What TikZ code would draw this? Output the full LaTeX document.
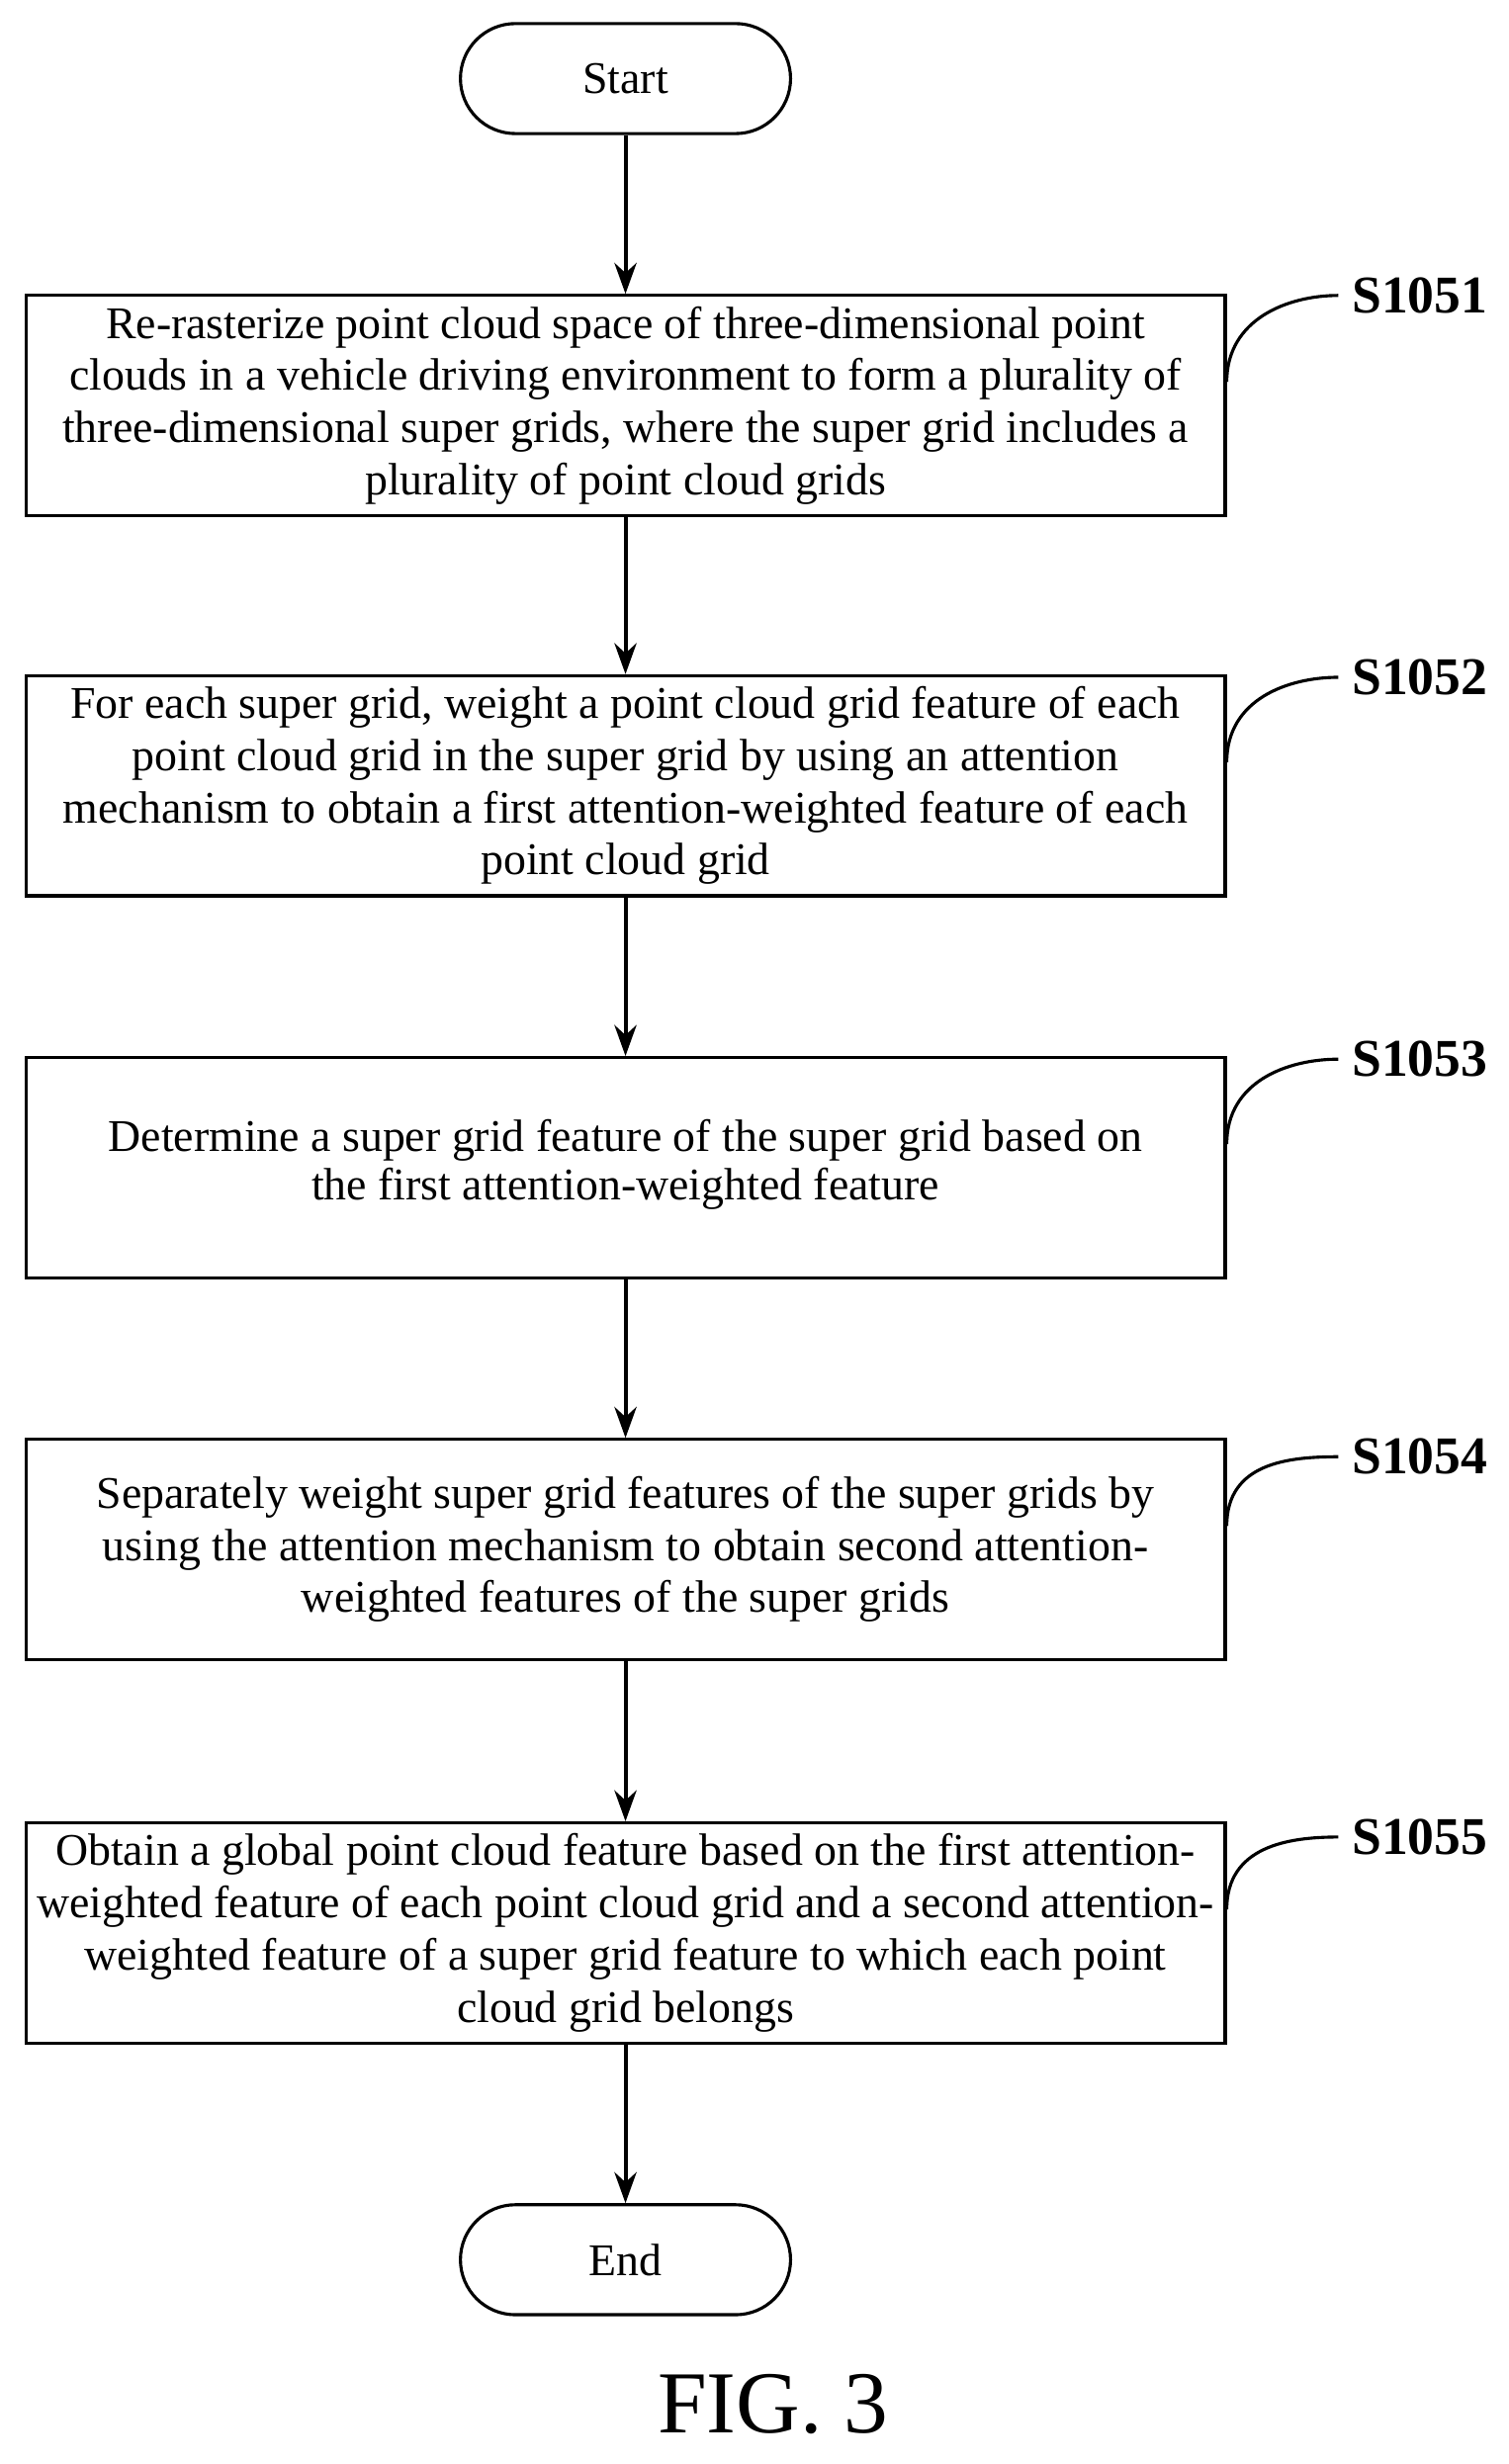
\documentclass[tikz,border=0pt]{standalone}
\usepackage{fontspec}
\setmainfont{Liberation Serif}
\usetikzlibrary{arrows.meta}

\begin{document}
\begin{tikzpicture}[x=0.025cm,y=-0.025cm,
    procbox/.style={draw=black,line width=1.4pt,minimum width=19.075cm,minimum height=3.5cm,
        align=center,font=\fontsize{20.5}{23.6}\selectfont,inner sep=0pt},
    term/.style={draw=black,line width=1.4pt,minimum width=5.25cm,minimum height=1.75cm,
        rounded corners=0.875cm,font=\fontsize{20.5}{23.6}\selectfont},
    tag/.style={anchor=west,inner sep=0pt,font=\bfseries\fontsize{24}{28}\selectfont},
    flow/.style={-{Stealth[length=14pt,width=10pt]},line width=1.8pt}]
    \useasboundingbox (0,0) rectangle (960,1568);
    \node[term] (start) at (398,50) {Start};
    \node[procbox] (b1) at (398,258) {Re-rasterize point cloud space of three-dimensional point\\clouds in a vehicle driving environment to form a plurality of\\three-dimensional super grids, where the super grid includes a\\plurality of point cloud grids};
    \node[procbox] (b2) at (398,500) {For each super grid, weight a point cloud grid feature of each\\point cloud grid in the super grid by using an attention\\mechanism to obtain a first attention-weighted feature of each\\point cloud grid};
    \node[procbox] (b3) at (398,743) {\raisebox{7pt}{\shortstack{Determine a super grid feature of the super grid based on\\the first attention-weighted feature}}};
    \node[procbox] (b4) at (398,986) {Separately weight super grid features of the super grids by\\using the attention mechanism to obtain second attention-\\weighted features of the super grids};
    \node[procbox] (b5) at (398,1230) {Obtain a global point cloud feature based on the first attention-\\weighted feature of each point cloud grid and a second attention-\\weighted feature of a super grid feature to which each point\\cloud grid belongs};
    \node[term] (end) at (398,1438) {End};
    \node[inner sep=0pt,font=\fontsize{40}{48}\selectfont] (fig) at (492,1530) {FIG. 3};
    % arrows
    \draw[flow] (start) -- (b1);
    \draw[flow] (b1) -- (b2);
    \draw[flow] (b2) -- (b3);
    \draw[flow] (b3) -- (b4);
    \draw[flow] (b4) -- (b5);
    \draw[flow] (b5) -- (end);
    % step tags
    \foreach \i/\y in {1/188,2/431,3/674,4/927,5/1169}{
        \node[tag] (l\i) at (860,\y) {S105\i};
        \draw[line width=1.4pt] ([yshift=-1.4cm]b\i.north east) .. controls ++(0,1cm) and ++(-0.8cm,0) .. ([xshift=-6pt]l\i.west);
    }
\end{tikzpicture}
\end{document}
